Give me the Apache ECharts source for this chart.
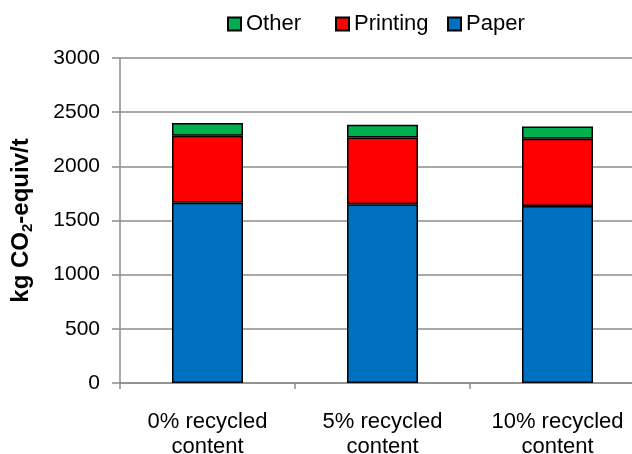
<!DOCTYPE html>
<html>
<head>
<meta charset="utf-8">
<script src="https://cdn.jsdelivr.net/npm/echarts@6/dist/echarts.min.js"></script>
<style>html,body{margin:0;padding:0;background:#fff}#c{width:632px;height:454px}</style>
</head>
<body>
<div id="c"></div>
<script>
const categories = ['0% recycled\ncontent', '5% recycled\ncontent', '10% recycled\ncontent'];
const paper = [1665, 1650, 1634];
const printing = [617, 616, 620];
const other = [117, 117, 114];
const yTicks = [0, 500, 1000, 1500, 2000, 2500, 3000];

const FONT = '"Liberation Sans", Arial, sans-serif';
const chart = echarts.init(document.getElementById('c'), null, {renderer: 'canvas'});
const legendText = {fontFamily: FONT, fontSize: 22, color: '#000'};
function lg(name, left) {
  return {data: [name], left: left, top: 13, padding: 0, itemWidth: 13, itemHeight: 13,
    itemGap: 0, icon: 'rect', textStyle: legendText, selectedMode: false};
}
chart.setOption({
  animation: false,
  textStyle: {fontFamily: FONT},
  legend: [lg('Other', 227), lg('Printing', 335), lg('Paper', 447)],
  grid: {left: 120, top: 58, width: 525, bottom: 71, containLabel: false, outerBoundsMode: 'none'},
  xAxis: {
    type: 'category', data: categories,
    axisLine: {lineStyle: {color: '#8c8c8c', width: 1.5}},
    axisTick: {show: true, length: 6, lineStyle: {color: '#8c8c8c', width: 1.5}},
    axisLabel: {color: '#000', fontSize: 22, fontFamily: FONT, lineHeight: 25, margin: 26, interval: 0}
  },
  yAxis: {
    type: 'value', min: yTicks[0], max: yTicks[yTicks.length - 1], interval: 500,
    axisLine: {show: true, lineStyle: {color: '#8c8c8c', width: 1.5}},
    axisTick: {show: true, length: 8, lineStyle: {color: '#8c8c8c', width: 1.5}},
    splitLine: {lineStyle: {color: '#8c8c8c', width: 1.5}},
    axisLabel: {color: '#000', fontSize: 21, fontFamily: FONT, margin: 20, formatter: v => String(v)},
    name: '{a|kg CO}{s|2}{a|-equiv/t}',
    nameLocation: 'middle', nameRotate: 90, nameGap: 85,
    nameTextStyle: {
      rich: {
        a: {fontSize: 24, fontWeight: 'bold', fontFamily: FONT, color: '#000', lineHeight: 28},
        s: {fontSize: 15, fontWeight: 'bold', fontFamily: FONT, color: '#000', lineHeight: 13, verticalAlign: 'bottom'}
      }
    }
  },
  series: [
    {name: 'Paper', type: 'bar', stack: 't', data: paper, barWidth: 71,
      itemStyle: {color: '#0070C0', borderColor: '#000', borderWidth: 1.5}},
    {name: 'Printing', type: 'bar', stack: 't', data: printing, barWidth: 71,
      itemStyle: {color: '#FF0000', borderColor: '#000', borderWidth: 1.5}},
    {name: 'Other', type: 'bar', stack: 't', data: other, barWidth: 71,
      itemStyle: {color: '#00B050', borderColor: '#000', borderWidth: 1.5}}
  ]
});
</script>
</body>
</html>
